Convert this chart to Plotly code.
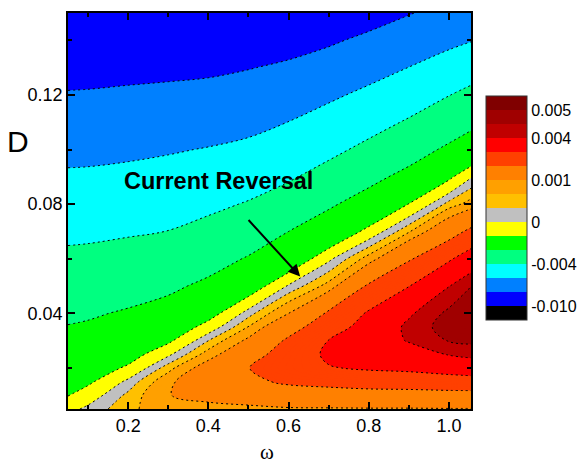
import numpy as np
import plotly.graph_objects as go

# ---- data (J in units of 1e-3) ----
omega = [0.05, 0.1, 0.2, 0.3, 0.4, 0.5, 0.6, 0.7, 0.8, 0.9, 1.0, 1.06]
D = [0.005, 0.01, 0.015, 0.02, 0.025, 0.03, 0.035, 0.04, 0.05, 0.06,
     0.07, 0.08, 0.09, 0.10, 0.11, 0.12, 0.13, 0.14, 0.15]

J_milli = [
    [-0.13, 0.09, 0.51, 0.84, 0.90, 0.92, 0.94, 0.95, 0.96, 0.96, 0.97, 0.97],
    [-0.52, -0.22, 0.38, 0.99, 1.10, 1.20, 1.50, 1.55, 1.60, 1.61, 1.66, 1.66],
    [-0.80, -0.61, 0.10, 0.87, 1.60, 1.80, 2.15, 2.30, 2.45, 2.51, 2.60, 2.64],
    [-1.09, -0.91, -0.40, 0.47, 1.30, 1.98, 2.55, 2.95, 3.10, 3.18, 3.36, 3.48],
    [-1.37, -1.22, -0.79, -0.08, 0.77, 1.61, 2.45, 3.15, 3.50, 3.65, 4.04, 4.19],
    [-1.66, -1.52, -1.13, -0.61, 0.30, 1.12, 2.15, 3.02, 3.55, 4.05, 4.53, 4.60],
    [-1.94, -1.84, -1.49, -1.03, -0.26, 0.62, 1.61, 2.59, 3.35, 4.15, 4.75, 4.85],
    [-2.28, -2.16, -1.85, -1.45, -0.77, 0.17, 1.00, 2.13, 3.11, 3.90, 4.63, 4.80],
    [-2.98, -2.88, -2.62, -2.28, -1.69, -0.91, 0.05, 0.74, 2.13, 2.98, 3.98, 4.55],
    [-3.66, -3.60, -3.40, -3.12, -2.60, -1.88, -1.06, -0.09, 0.76, 1.90, 2.89, 3.52],
    [-4.36, -4.32, -4.16, -3.98, -3.50, -2.88, -2.00, -1.18, -0.31, 0.56, 1.59, 2.26],
    [-5.06, -5.02, -4.88, -4.70, -4.36, -3.88, -3.12, -2.20, -1.36, -0.48, 0.42, 0.78],
    [-5.76, -5.74, -5.60, -5.42, -5.14, -4.76, -4.20, -3.36, -2.42, -1.57, -0.62, 0.01],
    [-6.48, -6.44, -6.32, -6.14, -5.92, -5.62, -5.08, -4.42, -3.58, -2.68, -1.73, -1.18],
    [-7.18, -7.16, -7.06, -6.94, -6.74, -6.48, -5.98, -5.34, -4.64, -3.82, -2.88, -2.30],
    [-7.90, -7.88, -7.78, -7.72, -7.56, -7.40, -6.86, -6.28, -5.64, -4.90, -4.04, -3.52],
    [-8.50, -8.46, -8.40, -8.30, -8.26, -8.05, -7.80, -7.35, -6.64, -5.98, -5.24, -4.76],
    [-9.00, -9.00, -8.90, -8.80, -8.70, -8.60, -8.50, -8.20, -7.70, -7.04, -6.40, -6.04],
    [-9.40, -9.40, -9.36, -9.30, -9.20, -9.10, -9.00, -8.95, -8.62, -8.08, -7.48, -7.12],
]

# contour levels (non-uniform, as in the colour bar)
levels = [-0.010, -0.008, -0.006, -0.004, -0.002, -0.0005, 0.0, 0.0003,
          0.0006, 0.001, 0.002, 0.003, 0.004, 0.0045, 0.005]
band_colors = ["#000000", "#0000FF", "#0080FF", "#00FFFF", "#00FF80", "#00FF00",
               "#FFFF00", "#C0C0C0", "#FFC000", "#FFA000", "#FF8000", "#FF4000",
               "#FF0000", "#C00000", "#A00000", "#800000"]
cbar_values = [0.005, 0.004, 0.001, 0.0, -0.004, -0.010]
cbar_text = ["0.005", "0.004", "0.001", "0", "-0.004", "-0.010"]
x_ticks = [0.2, 0.4, 0.6, 0.8, 1.0]
y_ticks = [0.04, 0.08, 0.12]

# ---- work in units of 1e-4 so that every level is an integer ----
SCALE = 1e4
Z = np.array(J_milli) * 1e-3 * SCALE
lev = [round(v * SCALE) for v in levels]          # -100 ... 50
start, end, step = lev[0], lev[-1], 1
nc = int(round((end - start) / step)) + 1         # number of fine levels

# fine-level fill: each fine band takes the colour of the coarse band that holds it
cs_fill = [[0.0, band_colors[0]]]
for k, L in enumerate(lev):
    s = ((L - start) / step + 0.5) / nc
    cs_fill.append([s, band_colors[k]])
    cs_fill.append([s, band_colors[k + 1]])
cs_fill.append([1.0, band_colors[-1]])

# colour bar: 16 equal blocks over [-1, 15] in level-index space
nb = len(band_colors)
cs_bar = []
for j, c in enumerate(band_colors):
    cs_bar.append([j / nb, c])
    cs_bar.append([(j + 1) / nb, c])
cb_tickvals = list(np.interp(cbar_values, levels, np.arange(len(levels), dtype=float)))

FONT = "Arial, Liberation Sans, sans-serif"
SMOOTH = 1.0

fig = go.Figure()
fig.add_trace(go.Contour(
    x=omega, y=D, z=Z,
    colorscale=cs_fill, showscale=False, autocontour=False,
    contours=dict(start=start, end=end, size=step, coloring="fill", showlines=False),
    line=dict(width=0, smoothing=SMOOTH),
    hoverinfo="skip",
))
# dotted contour lines at the actual (non-uniform) levels
for L in lev:
    fig.add_trace(go.Contour(
        x=omega, y=D, z=Z, showscale=False, autocontour=False,
        contours=dict(start=L, end=L, size=1, coloring="none"),
        line=dict(color="black", width=1, dash="2px,3px", smoothing=SMOOTH),
        hoverinfo="skip",
    ))
# colour-bar carrier (cells lie outside the visible axis range)
fig.add_trace(go.Heatmap(
    x=[2.0, 2.1], y=[1.0, 1.1], z=[[-1, 15], [-1, 15]],
    zmin=-1, zmax=15, colorscale=cs_bar, hoverinfo="skip",
    colorbar=dict(
        tickvals=cb_tickvals, ticktext=cbar_text,
        ticks="", ticklen=0, thickness=41, thicknessmode="pixels",
        len=224, lenmode="pixels",
        x=(486 - 68) / 403, xanchor="left", xpad=0,
        y=1 - (208 - 13) / 396, yanchor="middle", ypad=0,
        outlinecolor="#333333", outlinewidth=1,
        tickfont=dict(family=FONT, size=16, color="black"),
    ),
))

fig.add_annotation(x=0.425, y=0.0886, xref="x", yref="y", text="<b>Current Reversal</b>",
                   showarrow=False, font=dict(family=FONT, size=23.5, color="black"))
fig.add_annotation(x=0.629, y=0.0535, xref="x", yref="y", text="",
                   showarrow=True, ax=-53, ay=-58, arrowhead=2, arrowsize=1.2,
                   arrowwidth=2, arrowcolor="black")
fig.add_annotation(x=(18 - 68) / 403, y=1 - (141 - 13) / 396, xref="paper", yref="paper",
                   xanchor="center", yanchor="middle",
                   text="D", showarrow=False, font=dict(family=FONT, size=30, color="black"))
fig.add_annotation(x=(267 - 68) / 403, y=1 - (452 - 13) / 396, xref="paper", yref="paper",
                   xanchor="center", yanchor="middle",
                   text="ω", showarrow=False,
                   font=dict(family="Times New Roman, Liberation Serif, serif", size=21, color="black"))

axis_common = dict(showline=True, linecolor="black", linewidth=1.5, mirror="allticks",
                   ticks="inside", ticklen=7, tickwidth=1.5, tickcolor="black",
                   showgrid=False, zeroline=False,
                   tickfont=dict(family=FONT, size=18, color="black"))
fig.update_xaxes(range=[0.05, 1.055], tickvals=x_ticks, ticktext=[f"{v:.1f}" for v in x_ticks],
                 minor=dict(dtick=0.1, tick0=0, ticks="inside", ticklen=4, tickwidth=1.5,
                            tickcolor="black"),
                 **axis_common)
fig.update_yaxes(range=[0.005, 0.15], tickvals=y_ticks, ticktext=[f"{v:.2f}" for v in y_ticks],
                 minor=dict(dtick=0.02, tick0=0, ticks="inside", ticklen=4, tickwidth=1.5,
                            tickcolor="black"),
                 **axis_common)

fig.update_layout(width=582, height=463, margin=dict(l=68, r=111, t=13, b=54, autoexpand=False),
                  paper_bgcolor="white", plot_bgcolor="white", showlegend=False)

fig.write_html("out.html", config={"displayModeBar": False},
               post_script="document.body.style.margin='0';document.body.style.padding='0';")
